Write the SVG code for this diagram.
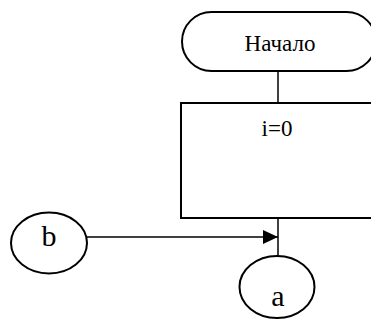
<svg xmlns="http://www.w3.org/2000/svg" width="371" height="326" viewBox="0 0 371 326">
  <style>
    .shape { fill: #fff; stroke: #000; stroke-width: 2; }
    .line { fill: none; stroke: #000; stroke-width: 1.5; }
    .label { font-family: "Liberation Serif", "Times New Roman", serif; font-size: 23px; fill: #000; text-anchor: middle; }
    .big { font-size: 30px; }
  </style>
  <defs>
    <marker id="arrow" markerUnits="userSpaceOnUse" markerWidth="16" markerHeight="14" refX="15" refY="7" orient="auto">
      <path d="M0,0 L15,7 L0,14 Z" fill="#000"/>
    </marker>
  </defs>

  <g id="connectors">
    <line class="line" x1="278" y1="71" x2="278" y2="103"/>
    <line class="line" x1="278" y1="218" x2="278" y2="256"/>
    <line class="line" x1="87" y1="237" x2="278" y2="237" stroke-width="2" marker-end="url(#arrow)"/>
  </g>

  <g id="start">
    <rect class="shape" x="182" y="12" width="194" height="59" rx="29.5" ry="29.5"/>
    <text class="label" x="280" y="51">Начало</text>
  </g>

  <g id="init">
    <rect class="shape" x="181" y="103" width="196" height="115"/>
    <text class="label" x="277" y="136">i=0</text>
  </g>

  <g id="connector-b">
    <ellipse class="shape" cx="49" cy="243" rx="38" ry="30.5"/>
    <text class="label big" x="49" y="246">b</text>
  </g>

  <g id="connector-a">
    <ellipse class="shape" cx="277" cy="287" rx="37.5" ry="31"/>
    <text class="label big" x="278" y="306">a</text>
  </g>
</svg>
